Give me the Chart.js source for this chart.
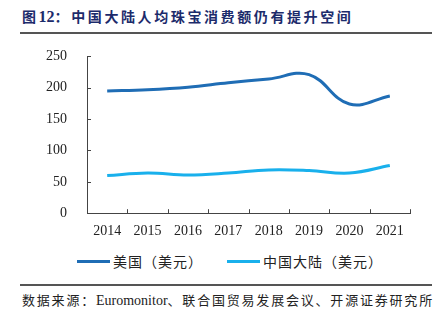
<!DOCTYPE html>
<html>
<head>
<meta charset="utf-8">
<script src="https://cdn.jsdelivr.net/npm/chart.js@4"></script>
<style>
  html, body { margin: 0; padding: 0; background: #fff; }
  body { width: 442px; height: 329px; position: relative; overflow: hidden; }
  .titulo {
    position: absolute; left: 22px; top: 7px;
    font-family: "Noto Sans CJK SC"; font-weight: bold; font-size: 14px;
    letter-spacing: 2.6px; color: #1c2b6b; white-space: nowrap; line-height: 18px;
  }
  .titulo .num { font-family: "Liberation Serif"; font-size: 16px; letter-spacing: 0; }
  .linha { position: absolute; left: 20px; width: 412px; height: 1.5px; background: #555; }
  .fonte {
    position: absolute; left: 22px; top: 291px;
    font-family: "Noto Sans CJK SC"; font-size: 13px; letter-spacing: 1.8px;
    color: #222; white-space: nowrap; line-height: 18px;
  }
  .fonte .en { font-family: "Liberation Serif"; font-size: 14px; letter-spacing: 0; }
  #grafico { position: absolute; left: 0; top: 36px; }
  .legenda {
    position: absolute; top: 252px; left: 77px; height: 18px;
    font-family: "Noto Sans CJK SC"; font-size: 14px; color: #222;
    display: flex; align-items: center; white-space: nowrap; line-height: 18px;
  }
  .legenda .item { display: flex; align-items: center; margin-right: 24px; letter-spacing: 1px; }
  .legenda .amostra { width: 33px; height: 3px; margin-right: 3px; }
</style>
</head>
<body>
<div class="titulo">图<span class="num">12</span>：中国大陆人均珠宝消费额仍有提升空间</div>
<div class="linha" style="top:32px"></div>
<canvas id="grafico" width="442" height="212"></canvas>
<div class="legenda" id="legenda"></div>
<div class="linha" style="top:284px"></div>
<div class="fonte">数据来源：<span class="en">Euromonitor</span>、联合国贸易发展会议、开源证券研究所</div>

<script>
// ---------------------------------------------------------------------------
// Dados
// ---------------------------------------------------------------------------
const anos = ["2014", "2015", "2016", "2017", "2018", "2019", "2020", "2021"];
const valoresEUA = [195, 197, 201, 208, 214, 221, 174, 187];
const valoresChina = [60, 64, 61, 64, 69, 68, 64, 76];
const ticksY = [0, 50, 100, 150, 200, 250];

// ---------------------------------------------------------------------------
// Ticks voltados para dentro da área do gráfico
// ---------------------------------------------------------------------------
const ticksInternos = {
  id: "ticksInternos",
  afterDatasetsDraw(chart) {
    const { ctx, scales } = chart;
    const x = scales.x, y = scales.y;
    const passo = x.getPixelForTick(1) - x.getPixelForTick(0);
    ctx.save();
    ctx.strokeStyle = "#444";
    ctx.lineWidth = 1;
    ctx.beginPath();
    ticksY.forEach(v => {
      const py = Math.round(y.getPixelForValue(v)) + 0.5;
      ctx.moveTo(x.left, py);
      ctx.lineTo(x.left + 4, py);
    });
    for (let i = 0; i < anos.length; i++) {
      const px = Math.round(x.getPixelForTick(i) + passo / 2) + 0.5;
      ctx.moveTo(px, y.bottom);
      ctx.lineTo(px, y.bottom - 4);
    }
    ctx.stroke();
    ctx.restore();
  }
};

// ---------------------------------------------------------------------------
// Legenda em HTML (cores vindas dos datasets)
// ---------------------------------------------------------------------------
const legendaHtml = {
  id: "legendaHtml",
  afterUpdate(chart) {
    const el = document.getElementById("legenda");
    el.innerHTML = chart.data.datasets.map(ds => `
      <span class="item"><span class="amostra" style="background:${ds.borderColor}"></span>${ds.label}</span>
    `).join("");
  }
};

const ctx = document.getElementById("grafico").getContext("2d");

new Chart(ctx, {
  type: "line",
  data: {
    labels: anos,
    datasets: [
      {
        label: "美国（美元）",
        data: valoresEUA,
        borderColor: "#1f6db5",
        backgroundColor: "#1f6db5",
        borderWidth: 3,
        tension: 0.4,
        pointRadius: 0
      },
      {
        label: "中国大陆（美元）",
        data: valoresChina,
        borderColor: "#19b0ec",
        backgroundColor: "#19b0ec",
        borderWidth: 3,
        tension: 0.4,
        pointRadius: 0
      }
    ]
  },
  options: {
    responsive: false,
    animation: false,
    layout: { padding: { left: 34, right: 32, top: 8, bottom: 6 } },
    scales: {
      x: {
        offset: true,
        grid: { display: false },
        border: { display: true, color: "#444", width: 1 },
        ticks: {
          color: "#222",
          padding: 2,
          maxRotation: 0,
          font: { family: "Liberation Serif", size: 14 }
        }
      },
      y: {
        min: 0,
        max: 250,
        afterBuildTicks: axis => { axis.ticks = ticksY.map(v => ({ value: v })); },
        grid: { display: false },
        border: { display: true, color: "#444", width: 1 },
        ticks: {
          color: "#222",
          padding: 12,
          font: { family: "Liberation Serif", size: 14 }
        }
      }
    },
    plugins: {
      tooltip: { enabled: false },
      legend: { display: false }
    }
  },
  plugins: [ticksInternos, legendaHtml]
});
</script>
</body>
</html>
